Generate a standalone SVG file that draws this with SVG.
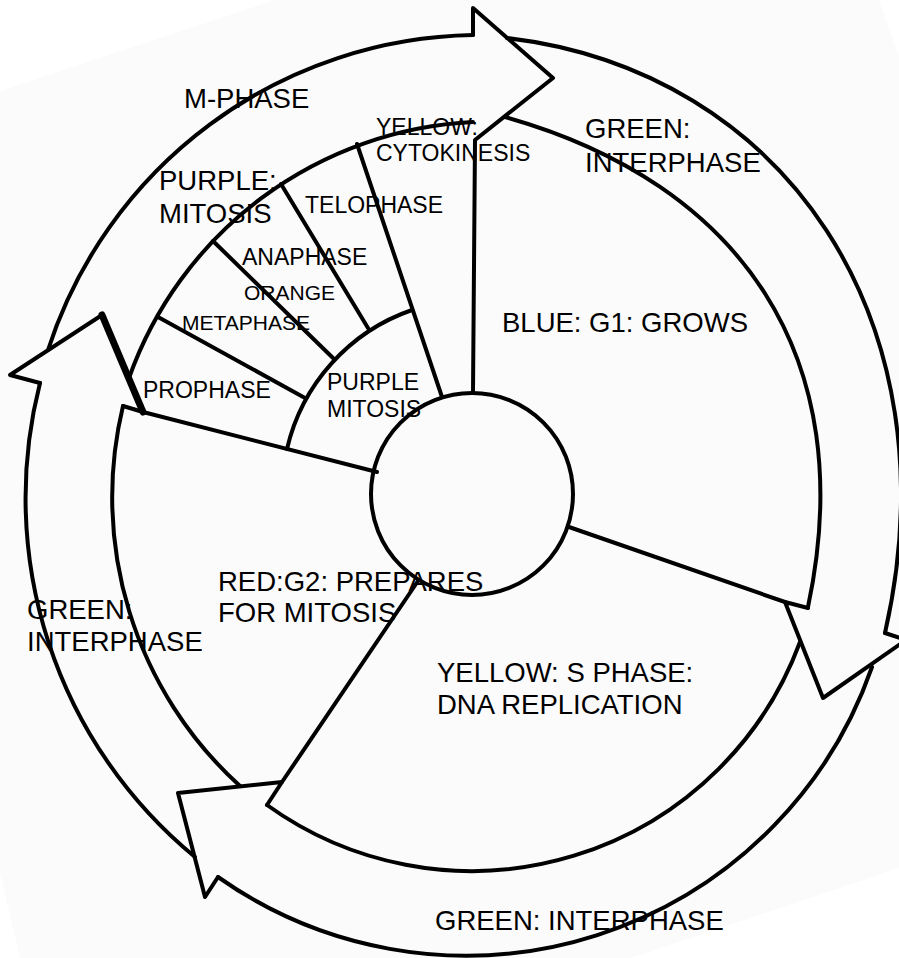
<svg xmlns="http://www.w3.org/2000/svg" width="899" height="958" viewBox="0 0 899 958">
<style>
.ln{fill:none;stroke:#000;stroke-width:4;stroke-linejoin:round;stroke-linecap:round}
.thick{fill:none;stroke:#000;stroke-width:7;stroke-linecap:round}
.big{font-family:"Liberation Sans",Arial,sans-serif;font-size:27.5px;fill:#000}
.mid{font-family:"Liberation Sans",Arial,sans-serif;font-size:23px;fill:#000}
.sm{font-family:"Liberation Sans",Arial,sans-serif;font-size:21px;fill:#000}
</style>
<rect width="899" height="958" fill="#fff"/>
<polygon points="275,0 879,0 899,57 899,868 631,958 20,958 0,872 0,91" fill="#fbfbfb"/>

<g id="connectors">
  <!-- M-phase band and arrowhead -->
  <path class="ln" d="M48,350 A455,455 0 0 1 473,35"/>
  <path class="ln" d="M129,378 A385,385 0 0 1 473,122"/>
  <path class="ln" d="M473,35 L473,8 L553,78 L475,140 L473,392"/>
  <!-- G1 interphase band and arrowhead -->
  <path class="ln" d="M507,38 C785,71 955.7,321 885,633"/>
  <path class="ln" d="M505,117 C740.9,183.2 861,357.6 808,607"/>
  <path class="ln" d="M808,608 L785,602 L823,698 L906,640 L885,633"/>
  <path class="ln" d="M569,527 L785,602"/>
  <!-- S interphase band and arrowhead -->
  <path class="ln" d="M800,642 A350,350 0 0 1 267,805"/>
  <path class="ln" d="M872,667 A430,430 0 0 1 218,877"/>
  <path class="ln" d="M267,805 L282,782 L178,793 L205,897 L218,877"/>
  <path class="ln" d="M418,581 L282,782"/>
  <!-- G2 interphase band and arrowhead -->
  <path class="ln" d="M240,786 A390,390 0 0 1 123,406"/>
  <path class="ln" d="M195,857 A465,465 0 0 1 40,383"/>
  <path class="ln" d="M40,383 L10,375 L102,315"/>
  <path class="thick" d="M102,315 L143,412"/>
  <path class="ln" d="M143,412 L123,406"/>
  <path class="ln" d="M143,412 L377,472"/>
</g>

<g id="center">
  <circle class="ln" cx="472" cy="494" r="101"/>
</g>

<g id="m-phase">
  <path class="ln" d="M287,449 A193,193 0 0 1 412,310"/>
  <path class="ln" d="M357,144 L442,397"/>
  <path class="ln" d="M281,184 L368,328"/>
  <path class="ln" d="M213,241 L333,358"/>
  <path class="ln" d="M158,317 L305,398"/>
  <text class="big" x="184" y="108">M-PHASE</text>
  <text class="big" x="159" y="190">PURPLE:</text>
  <text class="big" x="159" y="223">MITOSIS</text>
  <text class="mid" x="376" y="135">YELLOW:</text>
  <text class="mid" x="376" y="161">CYTOKINESIS</text>
  <text class="mid" x="305" y="213">TELOPHASE</text>
  <text class="mid" x="242" y="265">ANAPHASE</text>
  <text class="sm" x="244" y="300">ORANGE</text>
  <text class="sm" x="182" y="330">METAPHASE</text>
  <text class="mid" x="143" y="398">PROPHASE</text>
  <text class="mid" x="327" y="390">PURPLE</text>
  <text class="mid" x="327" y="416.5">MITOSIS</text>
</g>

<g id="g1">
  <text class="big" x="585" y="138">GREEN:</text>
  <text class="big" x="585" y="171.5">INTERPHASE</text>
  <text class="big" x="502" y="331.5">BLUE: G1: GROWS</text>
</g>

<g id="g2">
  <text class="big" x="218" y="590.5">RED:G2: PREPARES</text>
  <text class="big" x="218" y="621.5">FOR MITOSIS</text>
  <text class="big" x="27" y="619">GREEN:</text>
  <text class="big" x="27" y="650.5">INTERPHASE</text>
</g>

<g id="s-phase">
  <text class="big" x="437" y="682">YELLOW: S PHASE:</text>
  <text class="big" x="437" y="714">DNA REPLICATION</text>
  <text class="big" x="435" y="930">GREEN: INTERPHASE</text>
</g>
</svg>
